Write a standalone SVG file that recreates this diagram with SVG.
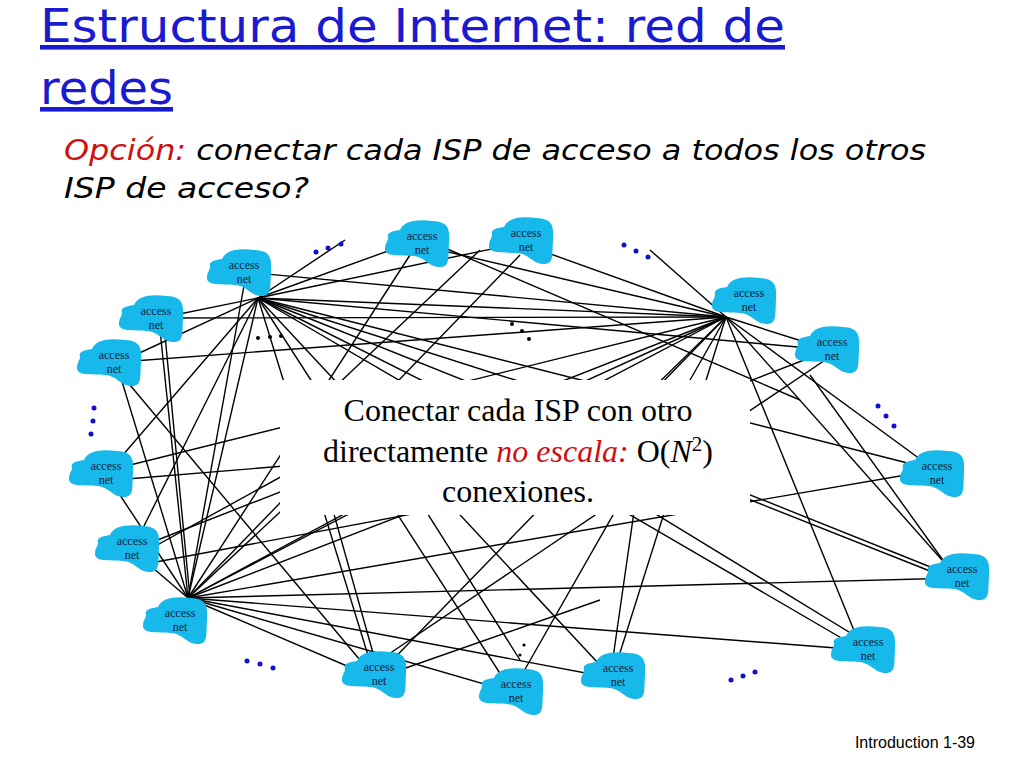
<svg xmlns="http://www.w3.org/2000/svg" xmlns:xlink="http://www.w3.org/1999/xlink" width="1024" height="768" viewBox="0 0 1024 768">
<style>
.t{font-family:"DejaVu Sans",sans-serif}
.an{font-family:"Liberation Serif",serif;font-size:12px;fill:#1a1a40;text-anchor:middle}
#conn line{stroke:#000;stroke-width:1.4}
.bd{fill:#1010d0}.kd{fill:#000}
</style>
<defs>
<path id="blob" d="M-30,-5 C-32,-12 -22,-12 -18,-13 C-14,-22 -2,-24 15,-22 C30,-21 32,-15 31,0 C30,15 32,24 22,24 C10,24 8,14 -5,13 C-18,12 -33,14 -33,6 C-33,0 -30,-2 -30,-5 Z" fill="#17b8ea"/>
</defs>
<rect width="1024" height="768" fill="#fff"/>
<text class="t" x="40" y="42" font-size="46" fill="#1a1ad0" text-decoration="underline" textLength="745" lengthAdjust="spacingAndGlyphs">Estructura de Internet: red de</text>
<text class="t" x="40" y="104" font-size="46" fill="#1a1ad0" text-decoration="underline" textLength="133" lengthAdjust="spacingAndGlyphs">redes</text>
<text class="t" x="64" y="160" font-size="29" font-style="italic" textLength="862" lengthAdjust="spacingAndGlyphs"><tspan fill="#d01010">Opción:</tspan> conectar cada ISP de acceso a todos los otros</text>
<text class="t" x="64" y="198" font-size="29" font-style="italic" textLength="245" lengthAdjust="spacingAndGlyphs">ISP de acceso?</text>
<g id="conn">
<line x1="258" y1="298" x2="726" y2="317"/><line x1="258" y1="298" x2="188" y2="598"/><line x1="726" y1="317" x2="188" y2="598"/>
<line x1="258" y1="298" x2="160" y2="318"/><line x1="258" y1="298" x2="120" y2="362"/><line x1="258" y1="298" x2="410" y2="243"/><line x1="258" y1="298" x2="520" y2="243"/><line x1="258" y1="298" x2="830" y2="350"/><line x1="258" y1="298" x2="935" y2="470"/><line x1="258" y1="298" x2="958" y2="578"/><line x1="258" y1="298" x2="862" y2="650"/><line x1="258" y1="298" x2="612" y2="678"/><line x1="258" y1="298" x2="512" y2="692"/><line x1="258" y1="298" x2="375" y2="678"/><line x1="258" y1="298" x2="132" y2="550"/><line x1="258" y1="298" x2="110" y2="470"/><line x1="258" y1="298" x2="345" y2="240"/><line x1="258" y1="298" x2="560" y2="450"/><line x1="258" y1="298" x2="640" y2="420"/>
<line x1="726" y1="317" x2="245" y2="272"/><line x1="726" y1="317" x2="160" y2="318"/><line x1="726" y1="317" x2="120" y2="362"/><line x1="726" y1="317" x2="410" y2="243"/><line x1="726" y1="317" x2="520" y2="243"/><line x1="726" y1="317" x2="830" y2="350"/><line x1="726" y1="317" x2="935" y2="470"/><line x1="726" y1="317" x2="958" y2="578"/><line x1="726" y1="317" x2="862" y2="650"/><line x1="726" y1="317" x2="612" y2="678"/><line x1="726" y1="317" x2="512" y2="692"/><line x1="726" y1="317" x2="375" y2="678"/><line x1="726" y1="317" x2="132" y2="550"/><line x1="726" y1="317" x2="110" y2="470"/><line x1="726" y1="317" x2="650" y2="250"/><line x1="726" y1="317" x2="500" y2="420"/><line x1="726" y1="317" x2="600" y2="440"/>
<line x1="188" y1="598" x2="245" y2="280"/><line x1="188" y1="598" x2="160" y2="330"/><line x1="188" y1="598" x2="120" y2="375"/><line x1="188" y1="598" x2="410" y2="255"/><line x1="188" y1="598" x2="520" y2="255"/><line x1="188" y1="598" x2="830" y2="350"/><line x1="188" y1="598" x2="935" y2="470"/><line x1="188" y1="598" x2="958" y2="578"/><line x1="188" y1="598" x2="862" y2="650"/><line x1="188" y1="598" x2="612" y2="678"/><line x1="188" y1="598" x2="512" y2="692"/><line x1="188" y1="598" x2="375" y2="678"/><line x1="188" y1="598" x2="132" y2="550"/><line x1="188" y1="598" x2="110" y2="480"/><line x1="188" y1="598" x2="400" y2="400"/><line x1="188" y1="598" x2="500" y2="430"/>
<line x1="130" y1="385" x2="375" y2="678"/><line x1="165" y1="335" x2="190" y2="598"/><line x1="115" y1="480" x2="600" y2="440"/><line x1="140" y1="565" x2="700" y2="460"/><line x1="130" y1="560" x2="420" y2="400"/><line x1="330" y1="500" x2="375" y2="660"/><line x1="400" y1="470" x2="520" y2="660"/><line x1="600" y1="480" x2="862" y2="640"/><line x1="700" y1="480" x2="940" y2="575"/><line x1="640" y1="470" x2="612" y2="665"/><line x1="600" y1="600" x2="400" y2="670"/><line x1="840" y1="350" x2="380" y2="660"/><line x1="810" y1="375" x2="950" y2="570"/><line x1="480" y1="250" x2="300" y2="420"/><line x1="445" y1="248" x2="800" y2="400"/>
</g>
<rect x="280" y="380" width="470" height="135" fill="#fff"/>
<g id="dots">
<circle class="bd" cx="316" cy="252" r="2.5"/><circle class="bd" cx="328" cy="248" r="2.5"/><circle class="bd" cx="341" cy="244" r="2.5"/>
<circle class="bd" cx="624" cy="245" r="2.5"/><circle class="bd" cx="636" cy="251" r="2.5"/><circle class="bd" cx="648" cy="257" r="2.5"/>
<circle class="bd" cx="94" cy="408" r="2.5"/><circle class="bd" cx="93" cy="421" r="2.5"/><circle class="bd" cx="91" cy="434" r="2.5"/>
<circle class="bd" cx="878" cy="406" r="2.5"/><circle class="bd" cx="886" cy="416" r="2.5"/><circle class="bd" cx="894" cy="426" r="2.5"/>
<circle class="bd" cx="247" cy="661" r="2.5"/><circle class="bd" cx="260" cy="664" r="2.5"/><circle class="bd" cx="273" cy="668" r="2.5"/>
<circle class="bd" cx="731" cy="680" r="2.5"/><circle class="bd" cx="743" cy="676" r="2.5"/><circle class="bd" cx="755" cy="672" r="2.5"/>
<circle class="kd" cx="258" cy="338" r="2"/><circle class="kd" cx="270" cy="337" r="2"/><circle class="kd" cx="281" cy="336" r="2"/>
<circle class="kd" cx="512" cy="324" r="2"/><circle class="kd" cx="522" cy="331" r="2"/><circle class="kd" cx="529" cy="339" r="2"/>
<circle class="kd" cx="520" cy="655" r="1.6"/><circle class="kd" cx="524" cy="645" r="1.6"/>
</g>
<g id="n1"><use href="#blob" x="240" y="272"/><text class="an" x="244" y="269">access</text><text class="an" x="244" y="283">net</text></g>
<g id="n2"><use href="#blob" x="152" y="318"/><text class="an" x="156" y="315">access</text><text class="an" x="156" y="329">net</text></g>
<g id="n3"><use href="#blob" x="110" y="362"/><text class="an" x="114" y="359">access</text><text class="an" x="114" y="373">net</text></g>
<g id="n4"><use href="#blob" x="418" y="243"/><text class="an" x="422" y="240">access</text><text class="an" x="422" y="254">net</text></g>
<g id="n5"><use href="#blob" x="522" y="240"/><text class="an" x="526" y="237">access</text><text class="an" x="526" y="251">net</text></g>
<g id="n6"><use href="#blob" x="745" y="300"/><text class="an" x="749" y="297">access</text><text class="an" x="749" y="311">net</text></g>
<g id="n7"><use href="#blob" x="828" y="349"/><text class="an" x="832" y="346">access</text><text class="an" x="832" y="360">net</text></g>
<g id="n8"><use href="#blob" x="933" y="473"/><text class="an" x="937" y="470">access</text><text class="an" x="937" y="484">net</text></g>
<g id="n9"><use href="#blob" x="958" y="576"/><text class="an" x="962" y="573">access</text><text class="an" x="962" y="587">net</text></g>
<g id="n10"><use href="#blob" x="864" y="649"/><text class="an" x="868" y="646">access</text><text class="an" x="868" y="660">net</text></g>
<g id="n11"><use href="#blob" x="614" y="675"/><text class="an" x="618" y="672">access</text><text class="an" x="618" y="686">net</text></g>
<g id="n12"><use href="#blob" x="512" y="691"/><text class="an" x="516" y="688">access</text><text class="an" x="516" y="702">net</text></g>
<g id="n13"><use href="#blob" x="375" y="674"/><text class="an" x="379" y="671">access</text><text class="an" x="379" y="685">net</text></g>
<g id="n14"><use href="#blob" x="176" y="620"/><text class="an" x="180" y="617">access</text><text class="an" x="180" y="631">net</text></g>
<g id="n15"><use href="#blob" x="128" y="548"/><text class="an" x="132" y="545">access</text><text class="an" x="132" y="559">net</text></g>
<g id="n16"><use href="#blob" x="102" y="473"/><text class="an" x="106" y="470">access</text><text class="an" x="106" y="484">net</text></g>
<g id="note" font-family="Liberation Serif,serif" font-size="32" text-anchor="middle">
<text x="518" y="421">Conectar cada ISP con otro</text>
<text x="518" y="462">directamente <tspan fill="#d01010" font-style="italic">no escala:</tspan> O(<tspan font-style="italic">N</tspan><tspan font-size="21" dy="-11">2</tspan><tspan dy="11">)</tspan></text>
<text x="518" y="502">conexiones.</text>
</g>
<text x="975" y="748" font-family="Liberation Sans,sans-serif" font-size="16" text-anchor="end">Introduction 1-39</text>
</svg>
